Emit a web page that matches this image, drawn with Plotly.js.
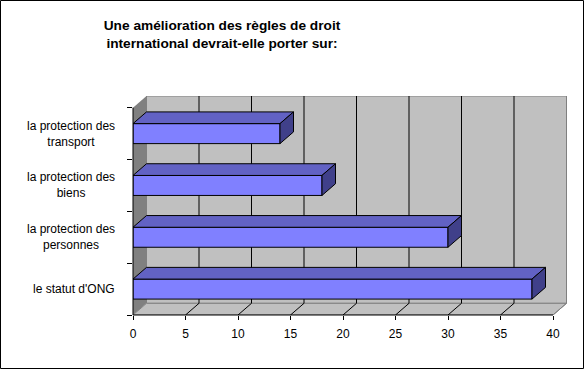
<!DOCTYPE html>
<html><head><meta charset="utf-8">
<script src="https://cdn.plot.ly/plotly-3.0.1.min.js"></script>
<style>html,body{margin:0;padding:0;background:#fff;overflow:hidden}</style>
</head><body><div id="chart" style="width:584px;height:370px"></div>
<script>
// ---- data ----
const categories = ["le statut d'ONG", "la protection des<br>personnes", "la protection des<br>biens", "la protection des<br>transport"];
const values = [38, 30, 18, 14];
const xTickVals = [0, 5, 10, 15, 20, 25, 30, 35, 40];
const titleText = "<b>Une amélioration des règles de droit<br>international devrait-elle porter sur:</b>";

// ---- geometry ----
const W = 584, H = 370, M = {l: 133, r: 17, t: 96, b: 55};
const plotW = W - M.l - M.r, plotH = H - M.t - M.b;
const xMax = xTickVals[xTickVals.length - 1];
const pxPerX = 420 / xMax;
const depth = {x: 13.5, y: 11.7};
const ddx = depth.x / pxPerX;
const xRange = [0, plotW / pxPerX];
const n = categories.length;
const yLo = -0.5, yHi = n - 0.5;
const pxPerY = (plotH - depth.y) / n;
const ddy = depth.y / pxPerY;
const yRange = [yLo, yHi + ddy];
const barW = 20 / pxPerY;
const idx = categories.map((c, i) => i);

const FONT = '"Liberation Sans", Arial, sans-serif';

// top & side faces built from values
const topX = [], topY = [], sideX = [], sideY = [];
values.forEach((v, i) => {
  const yt = i + barW / 2, yb = i - barW / 2;
  topX.push(0, v, v + ddx, ddx, 0, null);
  topY.push(yt, yt, yt + ddy, yt + ddy, yt, null);
  sideX.push(v, v, v + ddx, v + ddx, v, null);
  sideY.push(yb, yt, yt + ddy, yb + ddy, yb, null);
});

const traces = [
  {type: 'bar', orientation: 'h', x: values, y: idx, width: barW,
   marker: {color: '#8080ff', line: {color: '#000', width: 1}}, hoverinfo: 'skip', showlegend: false},
  {type: 'scatter', mode: 'lines', x: topX, y: topY, fill: 'toself', fillcolor: '#6262c4',
   line: {color: '#000', width: 1}, hoverinfo: 'skip', showlegend: false},
  {type: 'scatter', mode: 'lines', x: sideX, y: sideY, fill: 'toself', fillcolor: '#40408a',
   line: {color: '#000', width: 1}, hoverinfo: 'skip', showlegend: false}
];

const shapes = [];
// back wall
shapes.push({type: 'rect', xref: 'x', yref: 'y', x0: ddx, x1: xMax + ddx, y0: yLo + ddy, y1: yHi + ddy,
  fillcolor: '#c0c0c0', line: {color: '#808080', width: 1}, layer: 'below'});
// left wall
shapes.push({type: 'path', xref: 'x', yref: 'y',
  path: `M0,${yLo} L0,${yHi} L${ddx},${yHi + ddy} L${ddx},${yLo + ddy} Z`,
  fillcolor: '#808080', line: {width: 0}, layer: 'below'});
// floor
shapes.push({type: 'path', xref: 'x', yref: 'y',
  path: `M0,${yLo} L${xMax},${yLo} L${xMax + ddx},${yLo + ddy} L${ddx},${yLo + ddy} Z`,
  fillcolor: '#c0c0c0', line: {color: '#808080', width: 1}, layer: 'below'});
// gridlines on back wall and floor
xTickVals.forEach(v => {
  if (v > 0 && v < xMax) {
    shapes.push({type: 'line', xref: 'x', yref: 'y', x0: v + ddx, x1: v + ddx, y0: yLo + ddy, y1: yHi + ddy,
      line: {color: '#000', width: 1}, layer: 'below'});
  }
  if (v > 0) {
    shapes.push({type: 'line', xref: 'x', yref: 'y', x0: v, x1: v + ddx, y0: yLo, y1: yLo + ddy,
      line: {color: v < xMax ? '#000' : '#808080', width: 1}, layer: 'below'});
  }
});
// front axis lines
shapes.push({type: 'line', xref: 'x', yref: 'y domain', x0: 0, x1: xMax, y0: 0, y1: 0,
  line: {color: '#000', width: 1}, layer: 'above'});
shapes.push({type: 'line', xref: 'x domain', yref: 'y', x0: 0, x1: 0, y0: yLo, y1: yHi,
  line: {color: '#000', width: 1}, layer: 'above'});
// outer frame
const px2x = px => (px - M.l) / plotW, py2y = py => (H - M.b - py) / plotH;
shapes.push({type: 'rect', xref: 'paper', yref: 'paper', x0: px2x(0.5), x1: px2x(583.5), y0: py2y(368.5), y1: py2y(0.5),
  line: {color: '#000', width: 1}, fillcolor: 'rgba(0,0,0,0)'});

const annotations = categories.map((c, i) => ({
  xref: 'paper', yref: 'y', x: px2x(117), y: i, xanchor: 'right', yanchor: 'middle', align: 'center',
  text: c, showarrow: false, font: {family: FONT, size: 12, color: '#000'}
}));

const layout = {
  width: W, height: H, margin: M,
  paper_bgcolor: '#fff', plot_bgcolor: 'rgba(0,0,0,0)',
  font: {family: FONT, size: 12, color: '#000'},
  title: {text: titleText, x: 222 / W, xref: 'container', xanchor: 'center',
          y: 1 - 30 / H, yref: 'container', yanchor: 'top',
          font: {family: FONT, size: 13.7, color: '#000'}},
  xaxis: {range: xRange, showgrid: false, zeroline: false, showline: false,
          tickmode: 'array', tickvals: xTickVals, ticks: 'outside', ticklen: 4, tickcolor: '#000',
          ticklabelstandoff: 4,
          tickfont: {family: FONT, size: 12, color: '#000'}, fixedrange: true},
  yaxis: {range: yRange, showgrid: false, zeroline: false, showline: false,
          tickmode: 'array', tickvals: [-0.5, 0.5, 1.5, 2.5, 3.5], ticktext: ['', '', '', '', ''],
          ticks: 'outside', ticklen: 5, tickcolor: '#000', showticklabels: false, fixedrange: true},
  shapes: shapes, annotations: annotations, showlegend: false, bargap: 0
};

Plotly.newPlot('chart', traces, layout, {displayModeBar: false, staticPlot: true});
</script>
</body></html>
